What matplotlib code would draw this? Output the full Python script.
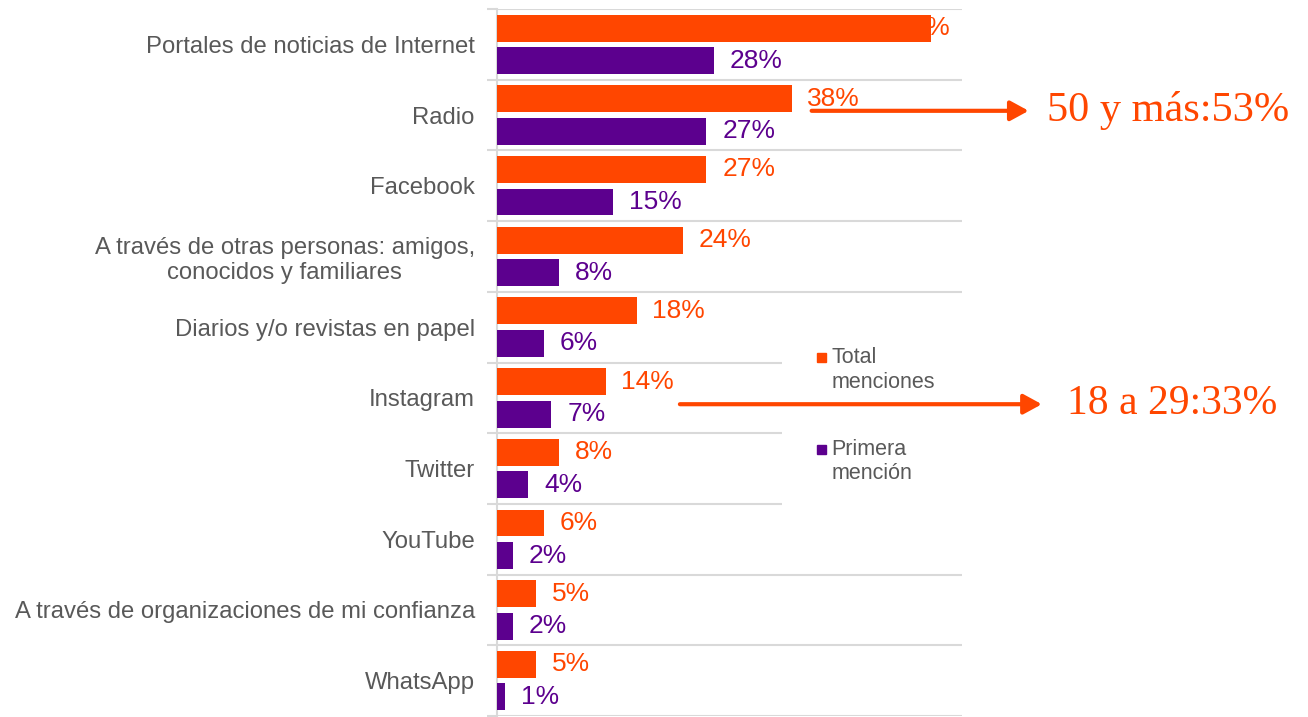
import matplotlib.pyplot as plt
from matplotlib.patches import Patch, Rectangle
from matplotlib.legend_handler import HandlerPatch

ORANGE = "#FF4600"
PURPLE = "#5C008E"
GRAY = "#595959"
GRID = "#D9D9D9"

categories = [
    "Portales de noticias de Internet",
    "Radio",
    "Facebook",
    "A través de otras personas: amigos,\nconocidos y familiares",
    "Diarios y/o revistas en papel",
    "Instagram",
    "Twitter",
    "YouTube",
    "A través de organizaciones de mi confianza",
    "WhatsApp",
]
total_menciones = [56, 38, 27, 24, 18, 14, 8, 6, 5, 5]
primera_mencion = [28, 27, 15, 8, 6, 7, 4, 2, 2, 1]

legend_labels = ["Total\nmenciones", "Primera\nmención"]
notes = ["50 y más:53%", "18 a 29:33%"]


class TopSquare(HandlerPatch):
    """Small square next to the first line of a two-line legend label."""

    def create_artists(self, legend, orig_handle, xdescent, ydescent,
                       width, height, fontsize, trans):
        size = 0.42 * fontsize
        x = -xdescent + width - size
        y = -ydescent + height / 2 + 0.6 * fontsize - size / 2
        p = Rectangle((x, y), size, size)
        self.update_prop(p, orig_handle, legend)
        p.set_transform(trans)
        return [p]


def main():
    plt.rcParams["font.family"] = ["Liberation Sans", "DejaVu Sans"]

    fig = plt.figure(figsize=(13.08, 7.17), dpi=100)
    ax = fig.add_axes([497 / 1308, 1 / 717, 465 / 1308, 707 / 717])

    ys = list(range(len(categories)))
    y_tot = [y - 0.23 for y in ys]
    y_pri = [y + 0.23 for y in ys]

    ax.barh(y_tot, total_menciones, height=0.38, color=ORANGE, zorder=3)
    ax.barh(y_pri, primera_mencion, height=0.38, color=PURPLE, zorder=3)

    # value labels (first one ends up under its own bar, like the original)
    for i, (v, y) in enumerate(zip(total_menciones, y_tot)):
        if i == 0:
            ax.annotate(f"{v}%", (v, y), xytext=(14, 0), textcoords="offset points",
                        ha="right", va="center", color=ORANGE, fontsize=19, zorder=2)
        else:
            ax.annotate(f"{v}%", (v, y), xytext=(11.5, 0), textcoords="offset points",
                        ha="left", va="center", color=ORANGE, fontsize=19, zorder=4)
    for v, y in zip(primera_mencion, y_pri):
        ax.annotate(f"{v}%", (v, y), xytext=(11.5, 0), textcoords="offset points",
                    ha="left", va="center", color=PURPLE, fontsize=19, zorder=4)

    ax.set_xlim(0, 60)
    ax.set_ylim(len(categories) - 0.5, -0.5)
    ax.set_xticks([])
    ax.set_yticks(ys)
    ax.set_yticklabels(categories, fontsize=17.2, color=GRAY)
    ax.get_yticklabels()[3].set_multialignment("center")
    ax.tick_params(axis="y", which="major", length=0, pad=16)
    ax.set_yticks([y + 0.5 for y in range(-1, len(categories))], minor=True)
    ax.tick_params(axis="y", which="minor", length=7.5, width=1.5, color=GRID)
    ax.grid(axis="y", which="minor", color=GRID, linewidth=1.5, zorder=0)

    for s in ["top", "right", "bottom"]:
        ax.spines[s].set_visible(False)
    ax.spines["left"].set_color(GRID)
    ax.spines["left"].set_linewidth(1.5)

    handles = [Patch(color=ORANGE), Patch(color=PURPLE)]
    leg = ax.legend(handles, legend_labels,
                    loc="upper left", bbox_to_anchor=(0.612, 0.467, 0.395, 0.1),
                    mode="expand", handler_map={Patch: TopSquare()},
                    frameon=True, framealpha=1, edgecolor="none", facecolor="white",
                    fontsize=15.5, labelcolor=GRAY, handlelength=0.58,
                    handletextpad=0.23, labelspacing=2.15, borderpad=1.5,
                    borderaxespad=0, fancybox=False)
    leg.set_zorder(5)

    # age-group notes with arrows
    arrow_style = "-|>,head_length=0.55,head_width=0.3"
    ax.annotate("", xy=(68.6, 0.94), xytext=(40.6, 0.94), annotation_clip=False,
                arrowprops=dict(arrowstyle=arrow_style, color=ORANGE, lw=3,
                                mutation_scale=20, shrinkA=0, shrinkB=0), zorder=6)
    ax.text(71.0, 0.94, notes[0], family="Liberation Serif", fontsize=30.5,
            color=ORANGE, va="center", ha="left", clip_on=False)

    ax.annotate("", xy=(70.3, 5.09), xytext=(23.6, 5.09), annotation_clip=False,
                arrowprops=dict(arrowstyle=arrow_style, color=ORANGE, lw=3,
                                mutation_scale=20, shrinkA=0, shrinkB=0), zorder=6)
    ax.text(73.6, 5.09, notes[1], family="Liberation Serif", fontsize=30,
            color=ORANGE, va="center", ha="left", clip_on=False)

    fig.savefig("out.png", dpi=100)


if __name__ == "__main__":
    main()
